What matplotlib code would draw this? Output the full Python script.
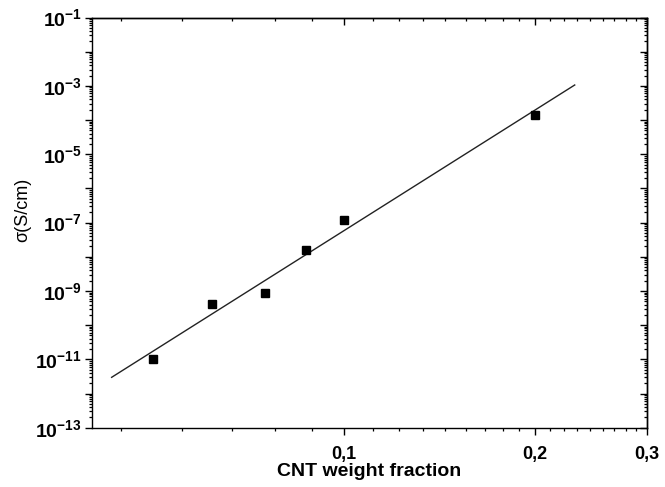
import numpy as np
import matplotlib
matplotlib.use("Agg")
import matplotlib.pyplot as plt
from matplotlib.ticker import FixedLocator, FuncFormatter, LogLocator, NullFormatter

plt.rcParams['font.family'] = ['Liberation Sans', 'DejaVu Sans']
plt.rcParams['mathtext.fontset'] = 'custom'
plt.rcParams['mathtext.rm'] = 'Liberation Sans'
plt.rcParams['mathtext.bf'] = 'Liberation Sans:bold'

# Measured conductivity vs CNT loading
cnt_fraction = [0.05, 0.062, 0.075, 0.087, 0.10, 0.20]
conductivity = [1.04e-11, 4.15e-10, 8.9e-10, 1.58e-8, 1.17e-7, 1.4e-4]

# x range covered by the power-law fit line
fit_start = 0.043
fit_end = 0.231

x_major = [0.1, 0.2, 0.3]
x_labels = ["0,1", "0,2", "0,3"]
y_exponents = list(range(-13, 0))

# power-law fit in log-log space
slope, intercept = np.polyfit(np.log10(cnt_fraction), np.log10(conductivity), 1)
fit_x = np.array([fit_start, fit_end])
fit_y = 10 ** (intercept + slope * np.log10(fit_x))

fig = plt.figure(figsize=(6.65, 4.87), dpi=100)
ax = fig.add_axes([0.1379, 0.1218, 0.8346, 0.8422])

ax.plot(fit_x, fit_y, color='#222222', lw=1.0)
ax.plot(cnt_fraction, conductivity, ls='none', marker='s', ms=6, color='black')

ax.set_xscale('log')
ax.set_yscale('log')
ax.set_xlim(0.04, 0.3)
ax.set_ylim(1e-13, 1e-1)

# minor ticks every 1/9 of the 0.1 step, as on a linear-increment log axis
x_minor = [m + k * 0.1 / 9 for m in (0.0, 0.1, 0.2) for k in range(1, 9)]
x_minor = [v for v in x_minor if 0.04 <= v <= 0.3]


def y_label(v, pos):
    e = int(round(np.log10(v)))
    if e % 2 == 0:
        return ""
    return r'$\mathbf{10^{%d}}$' % e


def setup(axis_x, axis_y):
    axis_x.set_major_locator(FixedLocator(x_major))
    axis_x.set_minor_locator(FixedLocator(x_minor))
    axis_x.set_minor_formatter(NullFormatter())
    axis_y.set_major_locator(FixedLocator([10.0 ** e for e in y_exponents]))
    axis_y.set_minor_locator(LogLocator(base=10, subs=np.arange(2, 10), numticks=30))
    axis_y.set_minor_formatter(NullFormatter())


setup(ax.xaxis, ax.yaxis)
ax.xaxis.set_major_formatter(FuncFormatter(lambda v, p: x_labels[x_major.index(v)] if v in x_major else ""))
ax.yaxis.set_major_formatter(FuncFormatter(y_label))

ax.tick_params(which='major', direction='out', length=5, width=1.0)
ax.tick_params(axis='x', which='major', labelsize=13, pad=8)
ax.tick_params(axis='y', which='major', labelsize=14, pad=2)
ax.tick_params(which='minor', direction='out', length=2.5, width=0.9)
for lab in ax.get_xticklabels():
    lab.set_fontweight('bold')

# mirrored axes on top and right with inward ticks
top = ax.secondary_xaxis('top')
right = ax.secondary_yaxis('right')
setup(top.xaxis, right.yaxis)
for sec in (top, right):
    sec.tick_params(which='major', direction='in', length=5, width=1.0, labelleft=False,
                    labelright=False, labeltop=False, labelbottom=False)
    sec.tick_params(which='minor', direction='in', length=2.5, width=0.9)
    for sp in sec.spines.values():
        sp.set_linewidth(1.0)

for sp in ax.spines.values():
    sp.set_linewidth(1.0)

ax.set_xlabel('CNT weight fraction', fontsize=14, fontweight='bold')
ax.set_ylabel('σ(S/cm)', fontsize=13)
ax.xaxis.set_label_coords(0.5, -0.106, transform=ax.transAxes)
ax.yaxis.set_label_coords(-0.124, 0.53, transform=ax.transAxes)
ax.xaxis.label.set_va('center')
ax.yaxis.label.set_va('center')

fig.savefig('out.png', dpi=100)
